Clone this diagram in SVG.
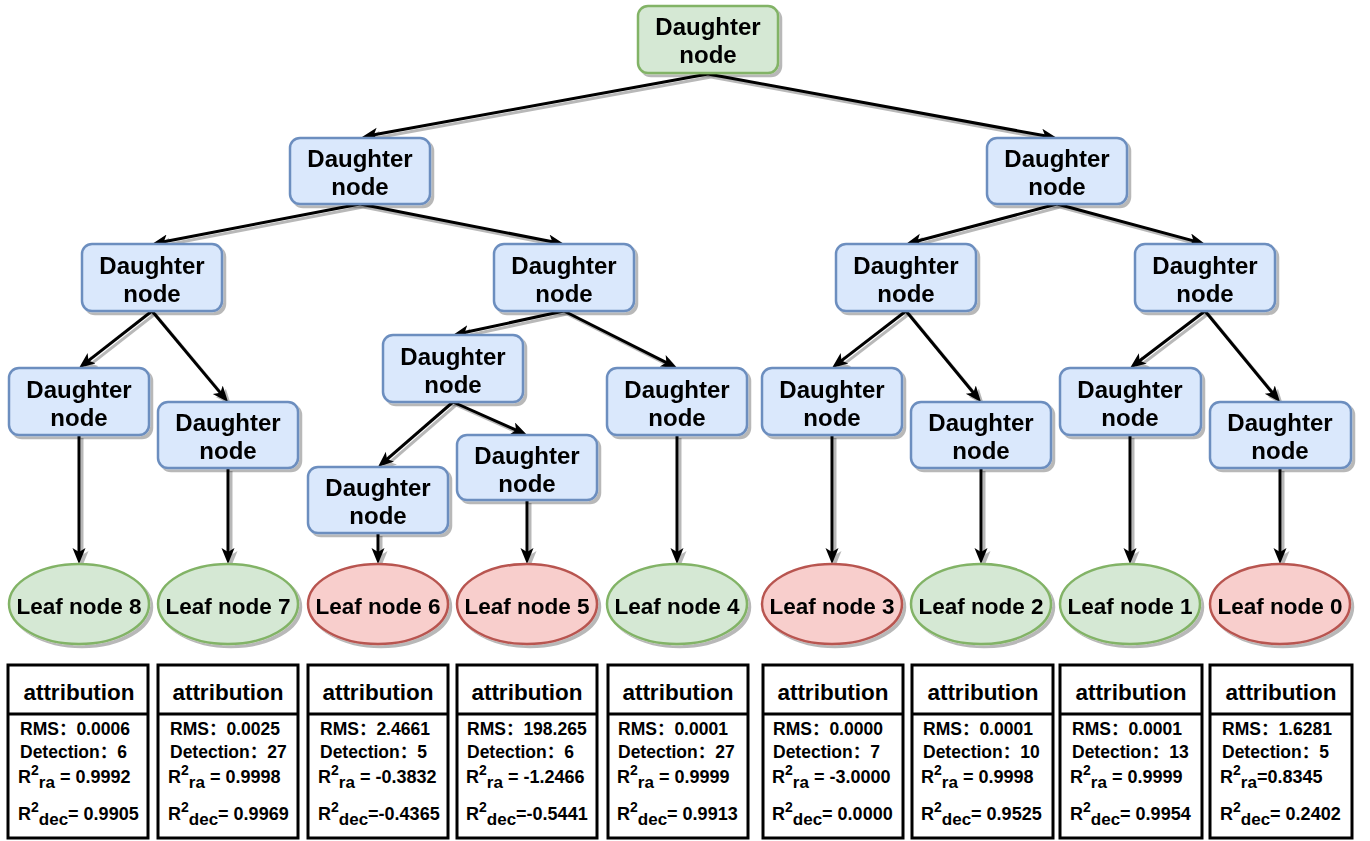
<svg xmlns="http://www.w3.org/2000/svg" width="1370" height="841" viewBox="0 0 1370 841">
<style>
text{font-family:"Liberation Sans",Arial,"Noto Sans CJK SC",sans-serif;font-weight:bold;fill:#000}
.dn{fill:#dae8fc;stroke:#6c8ebf;stroke-width:2.5}
.gn{fill:#d5e8d4;stroke:#82b366;stroke-width:2.5}
.rn{fill:#f8cecc;stroke:#b85450;stroke-width:2.5}
.nt{font-size:24px;text-anchor:middle}
.lt{font-size:22.5px;text-anchor:middle}
.box{fill:#fff;stroke:#000;stroke-width:3}
.ht{font-size:22.5px;text-anchor:middle}
.bt{font-size:17.5px}
.rt{font-size:18px}
.sup{font-size:14px}
.sub{font-size:17px}
.edge{fill:none;stroke:#000;stroke-width:3;marker-end:url(#arr)}
.shadow{filter:url(#sh)}
</style>
<defs>
<filter id="sh" x="-10%" y="-10%" width="130%" height="130%">
<feDropShadow dx="3" dy="3" stdDeviation="0.6" flood-color="#000" flood-opacity="0.28"/>
</filter>
<marker id="arr" markerUnits="userSpaceOnUse" markerWidth="17" markerHeight="14" viewBox="0 0 17 14" refX="8" refY="6.5" orient="auto">
<path d="M0,0 L16,6.5 L0,13 L4,6.5 Z" fill="#000"/>
</marker>
</defs>

<g id="connectors" class="shadow">
<path class="edge" d="M708,74 L369.9,135.6"/>
<path class="edge" d="M708,74 L1049.1,136.6"/>
<path class="edge" d="M360,204 L159.9,242.5"/>
<path class="edge" d="M360,204 L556.2,242.5"/>
<path class="edge" d="M1057,204 L913.7,242"/>
<path class="edge" d="M1057,204 L1197.3,241.9"/>
<path class="edge" d="M152,311 L85.3,363.1"/>
<path class="edge" d="M152,311 L222.9,395.9"/>
<path class="edge" d="M564,311 L460.8,333.3"/>
<path class="edge" d="M564,311 L669.9,364.4"/>
<path class="edge" d="M453,402 L384,461.8"/>
<path class="edge" d="M453,402 L519.7,431.7"/>
<path class="edge" d="M906,311 L838.3,363.1"/>
<path class="edge" d="M906,311 L975.9,395.8"/>
<path class="edge" d="M1205,311 L1136.4,363.2"/>
<path class="edge" d="M1205,311 L1274.9,395.8"/>
<path class="edge" d="M79,435 L79,556"/>
<path class="edge" d="M228,468 L228,556"/>
<path class="edge" d="M378,533 L378,556"/>
<path class="edge" d="M527,500 L527,556"/>
<path class="edge" d="M677,435 L677,556"/>
<path class="edge" d="M832,435 L832,556"/>
<path class="edge" d="M981,468 L981,556"/>
<path class="edge" d="M1130,435 L1130,556"/>
<path class="edge" d="M1280,468 L1280,556"/>
</g>

<g id="root" class="shadow"><rect class="gn" x="638" y="6" width="140" height="67" rx="10"/><text class="nt" x="708" y="35">Daughter</text><text class="nt" x="708" y="63">node</text></g>
<g id="n1l" class="shadow"><rect class="dn" x="290" y="138" width="140" height="66" rx="10"/><text class="nt" x="360" y="167">Daughter</text><text class="nt" x="360" y="195">node</text></g>
<g id="n1r" class="shadow"><rect class="dn" x="987" y="138" width="140" height="66" rx="10"/><text class="nt" x="1057" y="167">Daughter</text><text class="nt" x="1057" y="195">node</text></g>
<g id="nA" class="shadow"><rect class="dn" x="82" y="244" width="140" height="67" rx="10"/><text class="nt" x="152" y="274">Daughter</text><text class="nt" x="152" y="302">node</text></g>
<g id="nB" class="shadow"><rect class="dn" x="494" y="244" width="140" height="67" rx="10"/><text class="nt" x="564" y="274">Daughter</text><text class="nt" x="564" y="302">node</text></g>
<g id="nC" class="shadow"><rect class="dn" x="836" y="244" width="140" height="67" rx="10"/><text class="nt" x="906" y="274">Daughter</text><text class="nt" x="906" y="302">node</text></g>
<g id="nD" class="shadow"><rect class="dn" x="1135" y="244" width="140" height="67" rx="10"/><text class="nt" x="1205" y="274">Daughter</text><text class="nt" x="1205" y="302">node</text></g>
<g id="nE" class="shadow"><rect class="dn" x="383" y="335" width="140" height="67" rx="10"/><text class="nt" x="453" y="365">Daughter</text><text class="nt" x="453" y="393">node</text></g>
<g id="p8" class="shadow"><rect class="dn" x="9" y="368" width="140" height="67" rx="10"/><text class="nt" x="79" y="398">Daughter</text><text class="nt" x="79" y="426">node</text></g>
<g id="p7" class="shadow"><rect class="dn" x="158" y="402" width="140" height="66" rx="10"/><text class="nt" x="228" y="431">Daughter</text><text class="nt" x="228" y="459">node</text></g>
<g id="p6" class="shadow"><rect class="dn" x="308" y="467" width="140" height="66" rx="10"/><text class="nt" x="378" y="496">Daughter</text><text class="nt" x="378" y="524">node</text></g>
<g id="p5" class="shadow"><rect class="dn" x="457" y="435" width="140" height="65" rx="10"/><text class="nt" x="527" y="464">Daughter</text><text class="nt" x="527" y="492">node</text></g>
<g id="p4" class="shadow"><rect class="dn" x="607" y="368" width="140" height="67" rx="10"/><text class="nt" x="677" y="398">Daughter</text><text class="nt" x="677" y="426">node</text></g>
<g id="p3" class="shadow"><rect class="dn" x="762" y="368" width="140" height="67" rx="10"/><text class="nt" x="832" y="398">Daughter</text><text class="nt" x="832" y="426">node</text></g>
<g id="p2" class="shadow"><rect class="dn" x="911" y="402" width="140" height="66" rx="10"/><text class="nt" x="981" y="431">Daughter</text><text class="nt" x="981" y="459">node</text></g>
<g id="p1" class="shadow"><rect class="dn" x="1060" y="368" width="141" height="67" rx="10"/><text class="nt" x="1130" y="398">Daughter</text><text class="nt" x="1130" y="426">node</text></g>
<g id="p0" class="shadow"><rect class="dn" x="1210" y="402" width="141" height="66" rx="10"/><text class="nt" x="1280" y="431">Daughter</text><text class="nt" x="1280" y="459">node</text></g>

<g id="leaf8" class="shadow"><ellipse class="gn" cx="79" cy="604" rx="70" ry="40"/><text class="lt" x="79" y="614">Leaf node 8</text></g>
<g id="leaf7" class="shadow"><ellipse class="gn" cx="228" cy="604" rx="70" ry="40"/><text class="lt" x="228" y="614">Leaf node 7</text></g>
<g id="leaf6" class="shadow"><ellipse class="rn" cx="378" cy="604" rx="70" ry="40"/><text class="lt" x="378" y="614">Leaf node 6</text></g>
<g id="leaf5" class="shadow"><ellipse class="rn" cx="527" cy="604" rx="70" ry="40"/><text class="lt" x="527" y="614">Leaf node 5</text></g>
<g id="leaf4" class="shadow"><ellipse class="gn" cx="677" cy="604" rx="70" ry="40"/><text class="lt" x="677" y="614">Leaf node 4</text></g>
<g id="leaf3" class="shadow"><ellipse class="rn" cx="832" cy="604" rx="70" ry="40"/><text class="lt" x="832" y="614">Leaf node 3</text></g>
<g id="leaf2" class="shadow"><ellipse class="gn" cx="981" cy="604" rx="70" ry="40"/><text class="lt" x="981" y="614">Leaf node 2</text></g>
<g id="leaf1" class="shadow"><ellipse class="gn" cx="1130" cy="604" rx="70" ry="40"/><text class="lt" x="1130" y="614">Leaf node 1</text></g>
<g id="leaf0" class="shadow"><ellipse class="rn" cx="1280" cy="604" rx="70" ry="40"/><text class="lt" x="1280" y="614">Leaf node 0</text></g>

<g id="attr8"><rect class="box" x="8" y="665" width="140" height="173"/><line class="box" x1="8" y1="714" x2="148" y2="714"/><text class="ht" x="79" y="700">attribution</text>
<text class="bt" x="20" y="735">RMS：0.0006</text><text class="bt" x="20" y="758">Detection：6</text>
<text class="rt" x="18" y="783">R<tspan class="sup" dy="-8">2</tspan><tspan class="sub" dy="13">ra</tspan><tspan dy="-5"> = 0.9992</tspan></text>
<text class="rt" x="18" y="820">R<tspan class="sup" dy="-8">2</tspan><tspan class="sub" dy="13">dec</tspan><tspan dy="-5">= 0.9905</tspan></text></g>

<g id="attr7"><rect class="box" x="158" y="665" width="140" height="173"/><line class="box" x1="158" y1="714" x2="298" y2="714"/><text class="ht" x="228" y="700">attribution</text>
<text class="bt" x="170" y="735">RMS：0.0025</text><text class="bt" x="170" y="758">Detection：27</text>
<text class="rt" x="168" y="783">R<tspan class="sup" dy="-8">2</tspan><tspan class="sub" dy="13">ra</tspan><tspan dy="-5"> = 0.9998</tspan></text>
<text class="rt" x="168" y="820">R<tspan class="sup" dy="-8">2</tspan><tspan class="sub" dy="13">dec</tspan><tspan dy="-5">= 0.9969</tspan></text></g>

<g id="attr6"><rect class="box" x="308" y="665" width="140" height="173"/><line class="box" x1="308" y1="714" x2="448" y2="714"/><text class="ht" x="378" y="700">attribution</text>
<text class="bt" x="320" y="735">RMS：2.4661</text><text class="bt" x="320" y="758">Detection：5</text>
<text class="rt" x="318" y="783">R<tspan class="sup" dy="-8">2</tspan><tspan class="sub" dy="13">ra</tspan><tspan dy="-5"> = -0.3832</tspan></text>
<text class="rt" x="318" y="820">R<tspan class="sup" dy="-8">2</tspan><tspan class="sub" dy="13">dec</tspan><tspan dy="-5">=-0.4365</tspan></text></g>

<g id="attr5"><rect class="box" x="457" y="665" width="140" height="173"/><line class="box" x1="457" y1="714" x2="597" y2="714"/><text class="ht" x="527" y="700">attribution</text>
<text class="bt" x="467" y="735">RMS：198.265</text><text class="bt" x="467" y="758">Detection：6</text>
<text class="rt" x="466" y="783">R<tspan class="sup" dy="-8">2</tspan><tspan class="sub" dy="13">ra</tspan><tspan dy="-5"> = -1.2466</tspan></text>
<text class="rt" x="466" y="820">R<tspan class="sup" dy="-8">2</tspan><tspan class="sub" dy="13">dec</tspan><tspan dy="-5">=-0.5441</tspan></text></g>

<g id="attr4"><rect class="box" x="608" y="665" width="140" height="173"/><line class="box" x1="608" y1="714" x2="748" y2="714"/><text class="ht" x="678" y="700">attribution</text>
<text class="bt" x="618" y="735">RMS：0.0001</text><text class="bt" x="618" y="758">Detection：27</text>
<text class="rt" x="617" y="783">R<tspan class="sup" dy="-8">2</tspan><tspan class="sub" dy="13">ra</tspan><tspan dy="-5"> = 0.9999</tspan></text>
<text class="rt" x="617" y="820">R<tspan class="sup" dy="-8">2</tspan><tspan class="sub" dy="13">dec</tspan><tspan dy="-5">= 0.9913</tspan></text></g>

<g id="attr3"><rect class="box" x="763" y="665" width="140" height="173"/><line class="box" x1="763" y1="714" x2="903" y2="714"/><text class="ht" x="833" y="700">attribution</text>
<text class="bt" x="773" y="735">RMS：0.0000</text><text class="bt" x="773" y="758">Detection：7</text>
<text class="rt" x="772" y="783">R<tspan class="sup" dy="-8">2</tspan><tspan class="sub" dy="13">ra</tspan><tspan dy="-5"> = -3.0000</tspan></text>
<text class="rt" x="772" y="820">R<tspan class="sup" dy="-8">2</tspan><tspan class="sub" dy="13">dec</tspan><tspan dy="-5">= 0.0000</tspan></text></g>

<g id="attr2"><rect class="box" x="912" y="665" width="141" height="173"/><line class="box" x1="912" y1="714" x2="1053" y2="714"/><text class="ht" x="983" y="700">attribution</text>
<text class="bt" x="923" y="735">RMS：0.0001</text><text class="bt" x="923" y="758">Detection：10</text>
<text class="rt" x="921" y="783">R<tspan class="sup" dy="-8">2</tspan><tspan class="sub" dy="13">ra</tspan><tspan dy="-5"> = 0.9998</tspan></text>
<text class="rt" x="921" y="820">R<tspan class="sup" dy="-8">2</tspan><tspan class="sub" dy="13">dec</tspan><tspan dy="-5">= 0.9525</tspan></text></g>

<g id="attr1"><rect class="box" x="1060" y="665" width="142" height="173"/><line class="box" x1="1060" y1="714" x2="1202" y2="714"/><text class="ht" x="1131" y="700">attribution</text>
<text class="bt" x="1072" y="735">RMS：0.0001</text><text class="bt" x="1072" y="758">Detection：13</text>
<text class="rt" x="1070" y="783">R<tspan class="sup" dy="-8">2</tspan><tspan class="sub" dy="13">ra</tspan><tspan dy="-5"> = 0.9999</tspan></text>
<text class="rt" x="1070" y="820">R<tspan class="sup" dy="-8">2</tspan><tspan class="sub" dy="13">dec</tspan><tspan dy="-5">= 0.9954</tspan></text></g>

<g id="attr0"><rect class="box" x="1210" y="665" width="142" height="173"/><line class="box" x1="1210" y1="714" x2="1352" y2="714"/><text class="ht" x="1281" y="700">attribution</text>
<text class="bt" x="1222" y="735">RMS：1.6281</text><text class="bt" x="1222" y="758">Detection：5</text>
<text class="rt" x="1220" y="783">R<tspan class="sup" dy="-8">2</tspan><tspan class="sub" dy="13">ra</tspan><tspan dy="-5">=0.8345</tspan></text>
<text class="rt" x="1220" y="820">R<tspan class="sup" dy="-8">2</tspan><tspan class="sub" dy="13">dec</tspan><tspan dy="-5">= 0.2402</tspan></text></g>
</svg>
